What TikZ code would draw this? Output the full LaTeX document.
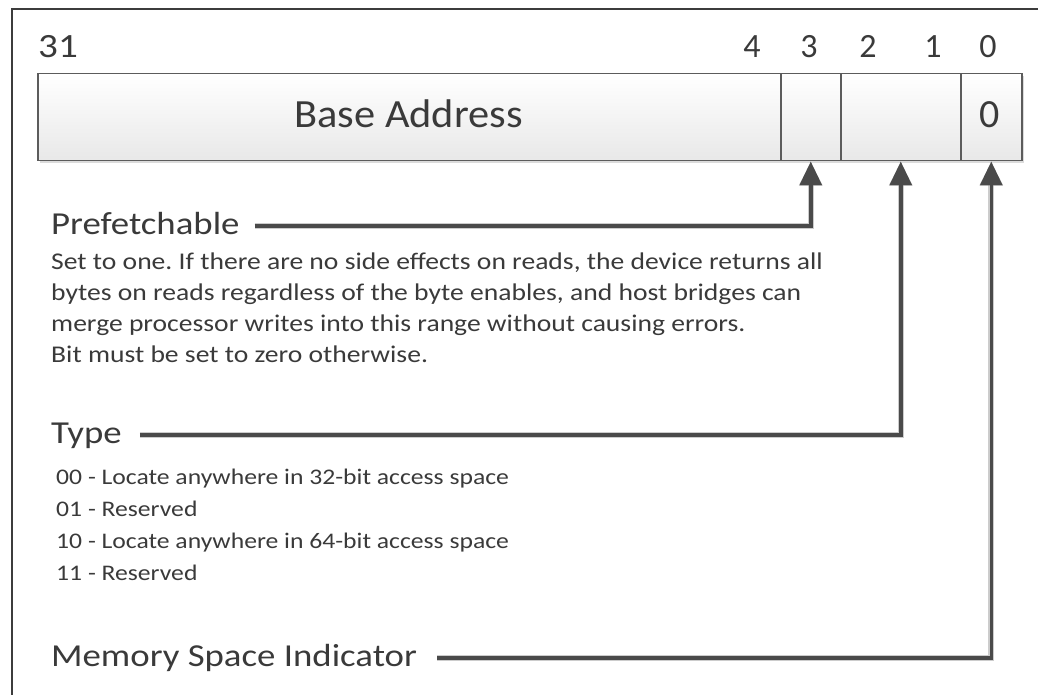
\documentclass[tikz,border=0pt]{standalone}
\usepackage{fontspec}
\setmainfont{Carlito}
\usetikzlibrary{arrows.meta}
\frenchspacing

\definecolor{inkgray}{HTML}{3A3A3A}
\definecolor{linegray}{HTML}{4A4A4A}
\definecolor{cellline}{HTML}{5C5C5C}
\definecolor{framegray}{HTML}{3C3C3C}

% horizontally widened text
\newcommand{\wider}[2][1.15]{\scalebox{#1}[1]{#2}}

\tikzset{
  frame/.style={draw=framegray, line width=2pt},
  cell/.style={draw=cellline, line width=1.5pt, top color=white, bottom color=black!9,
               minimum height=87pt, inner sep=0pt, anchor=north west},
  bitnum/.style={font=\fontsize{34}{34}\selectfont, text=inkgray, anchor=base, inner sep=0pt},
  celltext/.style={font=\fontsize{40}{40}\selectfont, text=inkgray, anchor=base, inner sep=0pt},
  heading/.style={font=\fontsize{32}{38}\selectfont, text=inkgray, anchor=west, inner sep=0pt,
                  text height=24pt, text depth=8pt},
  desc/.style={font=\fontsize{24}{31}\selectfont, text=inkgray, anchor=north west, inner sep=0pt},
  items/.style={font=\fontsize{22.3}{32}\selectfont, text=inkgray, anchor=north west, inner sep=0pt},
  conn/.style={draw=linegray, line width=3.5pt, -{Triangle[length=24pt,width=22pt]},
               preaction={draw=black!20, line width=6pt}},
}

\begin{document}
\begin{tikzpicture}[x=1pt, y=-1pt]
  \useasboundingbox (0,0) rectangle (1038,695);

  % outer frame
  \draw[frame] (12,695) -- (12,9) -- (1038,9);

  % register shadow
  \fill[black!14] (40,76) rectangle (1024,163);

  % register fields
  \node[cell, minimum width=743pt] (base) at (37,73) {};
  \node[cell, minimum width=60pt]  (b3)   at (780,73) {};
  \node[cell, minimum width=120pt] (b21)  at (840,73) {};
  \node[cell, minimum width=61pt]  (b0)   at (960,73) {};

  \node[celltext] (basetext) at (408.5,128) {\wider[1.06]{Base Address}};
  \node[celltext] (b0text)   at (990,128) {0};

  % bit numbers
  \node[bitnum] (n31) at (58,58)  {\wider{31}};
  \node[bitnum] (n4)  at (752,58) {4};
  \node[bitnum] (n3)  at (809,58) {3};
  \node[bitnum] (n2)  at (868,58) {2};
  \node[bitnum] (n1)  at (933,58) {1};
  \node[bitnum] (n0)  at (988,58) {0};

  % field descriptions
  \node[heading] (pref) at (51,226) {\wider{Prefetchable}};
  \node[desc] (prefdesc) at (51,247.3) {\wider[1.15]{\begin{tabular}{@{}l@{}}
    Set to one. If there are no side effects on reads, the device returns all\\
    bytes on reads regardless of the byte enables, and host bridges can\\
    merge processor writes into this range without causing errors.\\
    Bit must be set to zero otherwise.
  \end{tabular}}};

  \node[heading] (type) at (51,435) {\wider{Type}};
  \node[items] (typedesc) at (56,461.6) {\wider{\begin{tabular}{@{}l@{}}
    00 - Locate anywhere in 32-bit access space\\
    01 - Reserved\\
    10 - Locate anywhere in 64-bit access space\\
    11 - Reserved
  \end{tabular}}};

  \node[heading] (mem) at (51,658) {\wider{Memory Space Indicator}};

  % connectors
  \draw[conn] ([xshift=15pt]pref.east) -| (b3.south);
  \draw[conn] ([xshift=18pt]type.east) -| (b21.south);
  \draw[conn] ([xshift=20pt]mem.east)  -| (b0.south);
\end{tikzpicture}
\end{document}
